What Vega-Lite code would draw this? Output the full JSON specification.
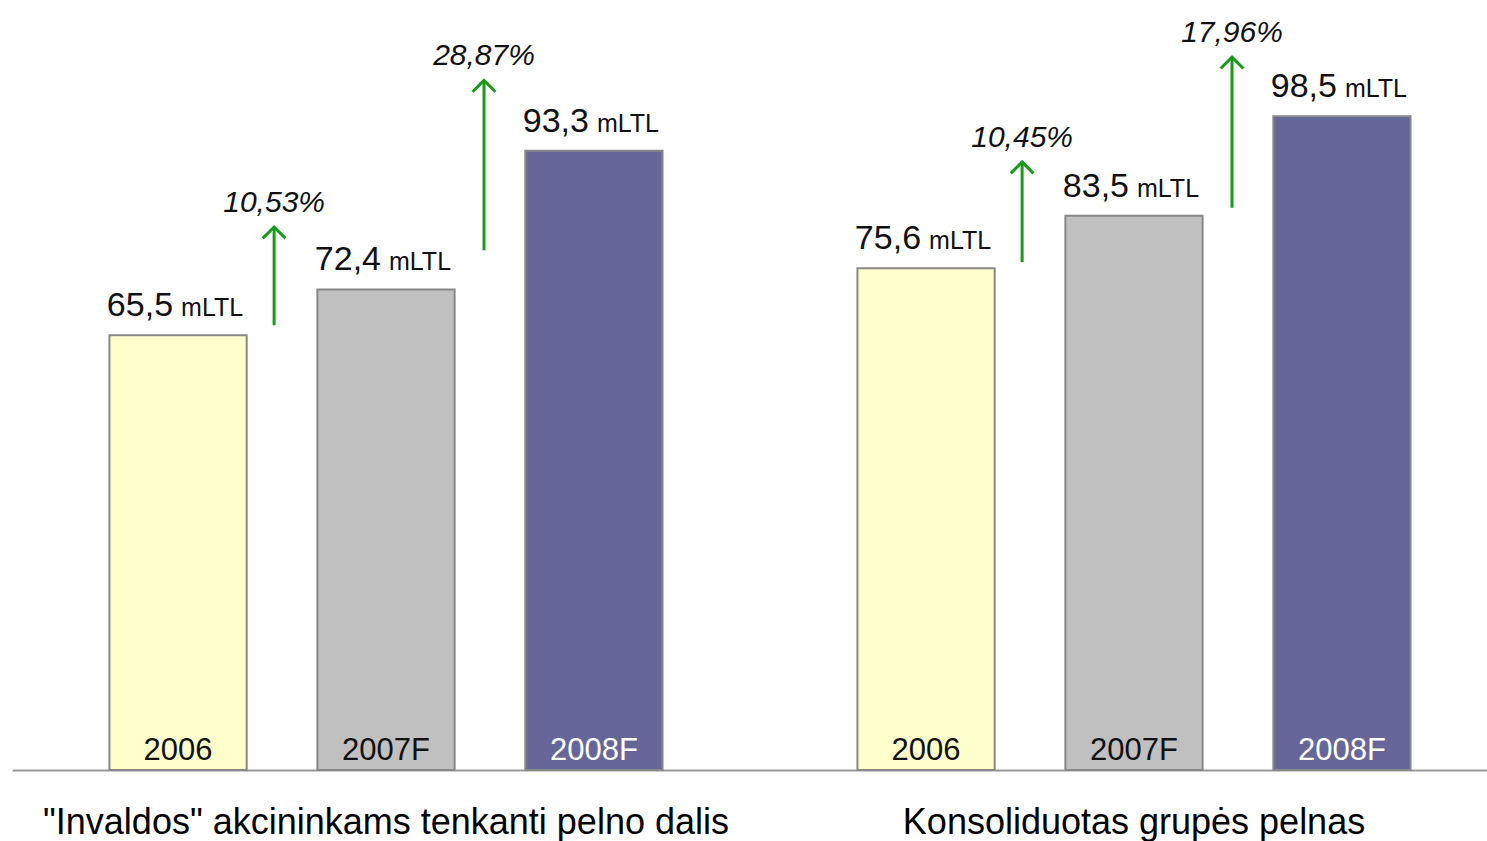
{
  "$schema": "https://vega.github.io/schema/vega-lite/v6.json",
  "autosize": "none",
  "padding": {"left": 12, "top": 0, "right": 0, "bottom": 71},
  "width": 1475,
  "height": 770,
  "background": "white",
  "config": {"view": {"stroke": null}, "font": "Liberation Sans"},
  "datasets": {
    "bars": [
      {"group": "\"Invaldos\" akcininkams tenkanti pelno dalis", "year": "2006", "value": 65.5, "label": "65,5"},
      {"group": "\"Invaldos\" akcininkams tenkanti pelno dalis", "year": "2007F", "value": 72.4, "label": "72,4"},
      {"group": "\"Invaldos\" akcininkams tenkanti pelno dalis", "year": "2008F", "value": 93.3, "label": "93,3"},
      {"group": "Konsoliduotas grupės pelnas", "year": "2006", "value": 75.6, "label": "75,6"},
      {"group": "Konsoliduotas grupės pelnas", "year": "2007F", "value": 83.5, "label": "83,5"},
      {"group": "Konsoliduotas grupės pelnas", "year": "2008F", "value": 98.5, "label": "98,5"}
    ],
    "arrows": [
      {"group": "\"Invaldos\" akcininkams tenkanti pelno dalis", "step": "2006→2007F", "from": 67.0, "to": 81.8, "pct": "10,53%"},
      {"group": "\"Invaldos\" akcininkams tenkanti pelno dalis", "step": "2007F→2008F", "from": 78.3, "to": 103.9, "pct": "28,87%"},
      {"group": "Konsoliduotas grupės pelnas", "step": "2006→2007F", "from": 76.5, "to": 91.6, "pct": "10,45%"},
      {"group": "Konsoliduotas grupės pelnas", "step": "2007F→2008F", "from": 84.7, "to": 107.4, "pct": "17,96%"}
    ]
  },
  "encoding": {
    "x": {
      "field": "group", "type": "nominal", "sort": null,
      "scale": {"range": [0, 1496], "paddingInner": 0.166, "paddingOuter": 0.083},
      "axis": {
        "title": null, "ticks": false, "labelAngle": 0, "labelFontSize": 36,
        "labelFont": "Liberation Sans", "labelColor": "#000000", "labelPadding": 35,
        "labelLimit": 0, "domainColor": "#999999", "domainWidth": 2
      }
    }
  },
  "layer": [
    {
      "data": {"name": "bars"},
      "encoding": {
        "xOffset": {"field": "year", "type": "nominal", "sort": null,
          "scale": {"paddingInner": 0.34, "paddingOuter": 0.17}},
        "y": {"field": "value", "type": "quantitative", "scale": {"domain": [0, 116], "nice": false}, "axis": null}
      },
      "layer": [
        {
          "mark": {"type": "bar", "stroke": "#888888", "strokeWidth": 2},
          "encoding": {
            "fill": {"field": "year", "type": "nominal", "scale": {"domain": ["2006", "2007F", "2008F"], "range": ["#FFFFCC", "#C0C0C0", "#666699"]}, "legend": null}
          }
        },
        {
          "mark": {"type": "text", "align": "right", "baseline": "alphabetic", "dx": -5, "dy": -19, "fontSize": 34, "color": "#111111"},
          "encoding": {"text": {"field": "label"}}
        },
        {
          "mark": {"type": "text", "align": "left", "baseline": "alphabetic", "dx": 3, "dy": -19, "fontSize": 25, "color": "#111111"},
          "encoding": {"text": {"value": "mLTL"}}
        },
        {
          "mark": {"type": "text", "align": "center", "baseline": "alphabetic", "dy": -10, "fontSize": 31},
          "encoding": {
            "y": {"datum": 0},
            "text": {"field": "year"},
            "color": {"condition": {"test": "datum.year === '2008F'", "value": "#FFFFFF"}, "value": "#111111"}
          }
        }
      ]
    },
    {
      "data": {"name": "arrows"},
      "encoding": {
        "xOffset": {"field": "step", "type": "nominal", "sort": null,
          "scale": {"paddingInner": 0, "paddingOuter": 0.486, "align": 0.466}}
      },
      "layer": [
        {
          "mark": {"type": "rule", "color": "#1a9a1a", "strokeWidth": 3},
          "encoding": {
            "y": {"field": "from", "type": "quantitative"},
            "y2": {"field": "to"}
          }
        },
        {
          "mark": {"type": "point", "shape": "M-1,1L0,0L1,1", "filled": false, "stroke": "#1a9a1a", "strokeWidth": 3, "size": 520, "opacity": 1},
          "encoding": {"y": {"field": "to", "type": "quantitative"}}
        },
        {
          "mark": {"type": "text", "align": "center", "baseline": "alphabetic", "dy": -15, "fontSize": 30, "fontStyle": "italic", "color": "#111111"},
          "encoding": {"y": {"field": "to", "type": "quantitative"}, "text": {"field": "pct"}}
        }
      ]
    }
  ],
  "resolve": {"scale": {"xOffset": "independent"}}
}
